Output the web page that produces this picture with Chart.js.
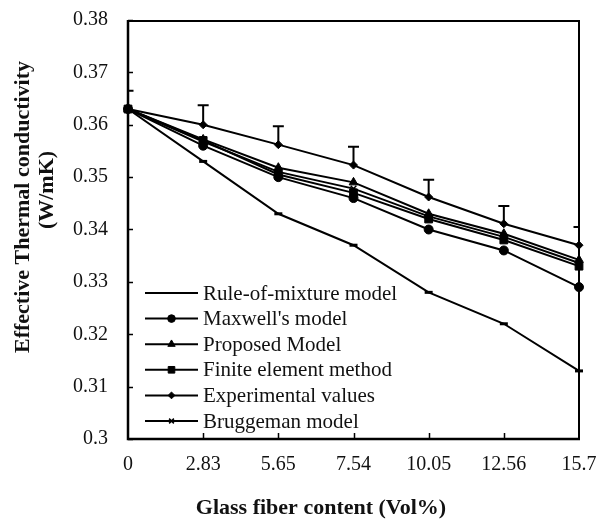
<!DOCTYPE html>
<html>
<head>
<meta charset="utf-8">
<script src="https://cdn.jsdelivr.net/npm/chart.js@4.4.1/dist/chart.umd.min.js"></script>
<style>
  html, body { margin: 0; padding: 0; background: #fff; }
  #wrap { width: 598px; height: 523px; }
</style>
</head>
<body>
<div id="wrap"><canvas id="chart"></canvas></div>
<script>
// Glass fiber content (Vol%) categories
const fiberContent = ['0', '2.83', '5.65', '7.54', '10.05', '12.56', '15.7'];

// Effective thermal conductivity (W/mK) per model
const ruleOfMixture = [0.363, 0.353, 0.343, 0.337, 0.328, 0.322, 0.313];
const maxwellModel = [0.363, 0.356, 0.350, 0.346, 0.340, 0.336, 0.329];
const proposedModel = [0.363, 0.3572, 0.3518, 0.349, 0.343, 0.3392, 0.3342];
const finiteElement = [0.363, 0.357, 0.3505, 0.347, 0.342, 0.338, 0.333];
const experimental = [0.363, 0.360, 0.3562, 0.3523, 0.3462, 0.3411, 0.337];
const bruggemanModel = [0.363, 0.3568, 0.351, 0.3478, 0.3425, 0.3386, 0.3336];

// Positive error of the experimental values
const expError = [0.0035, 0.0037, 0.0035, 0.0035, 0.0033, 0.0034, 0.0035];

const yTicks = { min: 0.30, max: 0.38, step: 0.01 };

const serif = '"Liberation Serif", "Times New Roman", serif';
const ink = '#111';

function series(label, data, style, radius, borderWidth) {
    return {
        label: label,
        data: data,
        borderColor: '#000',
        backgroundColor: '#000',
        borderWidth: 2,
        pointStyle: style,
        pointRadius: radius,
        pointBorderWidth: borderWidth,
        pointBackgroundColor: '#000',
        pointBorderColor: '#000',
        tension: 0,
        fill: false,
        clip: false
    };
}

const datasets = [
    series('Rule-of-mixture model', ruleOfMixture, 'line', 4, 3),
    series("Maxwell's model", maxwellModel, 'circle', 4.5, 1),
    series('Proposed Model', proposedModel, 'triangle', 5, 1),
    series('Finite element method', finiteElement, 'rect', 5.5, 1),
    series('Bruggeman model', bruggemanModel, 'crossRot', 4, 1.5),
    series('Experimental values', experimental, 'rectRot', 4, 1)
];

// order shown in the legend box
const legendOrder = ['Rule-of-mixture model', "Maxwell's model", 'Proposed Model',
    'Finite element method', 'Experimental values', 'Bruggeman model'];

const framePlugin = {
    id: 'frame',
    afterDatasetsDraw(chart) {
        const ctx = chart.ctx;
        const a = chart.chartArea;
        const x = chart.scales.x;
        const y = chart.scales.y;

        // error bars on the experimental values (upper side only)
        ctx.save();
        ctx.beginPath();
        ctx.rect(a.left, a.top - 2, a.right - a.left, a.bottom - a.top + 2);
        ctx.clip();
        ctx.strokeStyle = '#000';
        ctx.lineWidth = 2;
        experimental.forEach((v, i) => {
            const px = x.getPixelForValue(i);
            const py0 = y.getPixelForValue(v);
            const py1 = y.getPixelForValue(v + expError[i]);
            ctx.beginPath();
            ctx.moveTo(px, py0);
            ctx.lineTo(px, py1);
            ctx.moveTo(px - 5.5, py1);
            ctx.lineTo(px + 5.5, py1);
            ctx.stroke();
        });
        ctx.restore();
    },
    afterDraw(chart) {
        const ctx = chart.ctx;
        const x = chart.scales.x;
        const y = chart.scales.y;
        const left = Math.round(x.getPixelForValue(0));
        const right = Math.round(x.getPixelForValue(fiberContent.length - 1));
        const top = Math.round(y.getPixelForValue(yTicks.max));
        const bottom = Math.round(y.getPixelForValue(yTicks.min));

        ctx.save();
        ctx.strokeStyle = '#000';
        // top border
        ctx.lineWidth = 2;
        ctx.beginPath();
        ctx.moveTo(left, top + 1);
        ctx.lineTo(right + 1, top + 1);
        ctx.stroke();
        // right border
        ctx.beginPath();
        ctx.moveTo(right, top);
        ctx.lineTo(right, bottom);
        ctx.stroke();
        // left and bottom axes
        ctx.lineWidth = 2.5;
        ctx.beginPath();
        ctx.moveTo(left, top);
        ctx.lineTo(left, bottom);
        ctx.lineTo(right + 1, bottom);
        ctx.stroke();
        // inward tick marks
        ctx.lineWidth = 1.5;
        ctx.beginPath();
        y.ticks.forEach(t => {
            const py = Math.round(y.getPixelForValue(t.value)) + 0.5;
            ctx.moveTo(left, py);
            ctx.lineTo(left + 5, py);
        });
        for (let i = 1; i < fiberContent.length - 1; i++) {
            const px = Math.round(x.getPixelForValue(i)) + 0.5;
            ctx.moveTo(px, bottom);
            ctx.lineTo(px, bottom - 6);
        }
        ctx.stroke();

        // legend inside the plot
        ctx.font = '21px ' + serif;
        ctx.textAlign = 'left';
        ctx.textBaseline = 'middle';
        legendOrder.forEach((name, i) => {
            const ds = chart.data.datasets.find(d => d.label === name);
            const ly = 293 + i * 25.6;
            ctx.strokeStyle = '#000';
            ctx.lineWidth = 2;
            ctx.beginPath();
            ctx.moveTo(145, ly);
            ctx.lineTo(198, ly);
            ctx.stroke();
            if (ds.pointStyle !== 'line') {
                ctx.fillStyle = '#000';
                ctx.lineWidth = ds.pointBorderWidth;
                Chart.helpers.drawPoint(ctx, {
                    pointStyle: ds.pointStyle,
                    radius: ds.pointRadius * 0.85,
                    rotation: 0,
                    borderWidth: ds.pointBorderWidth
                }, 171.5, ly);
            }
            ctx.fillStyle = ink;
            ctx.fillText(name, 203, ly + 1);
        });

        // axis titles
        ctx.fillStyle = ink;
        ctx.font = 'bold 22px ' + serif;
        ctx.textAlign = 'center';
        ctx.fillText('Glass fiber content (Vol%)', 321, 508);
        ctx.save();
        ctx.translate(23, 207);
        ctx.rotate(-Math.PI / 2);
        ctx.fillText('Effective Thermal conductivity', 0, 0);
        ctx.restore();
        ctx.save();
        ctx.translate(47, 190);
        ctx.rotate(-Math.PI / 2);
        ctx.fillText('(W/mK)', 0, 0);
        ctx.restore();
        ctx.restore();
    }
};

new Chart(document.getElementById('chart'), {
    type: 'line',
    data: { labels: fiberContent, datasets: datasets },
    options: {
        responsive: true,
        maintainAspectRatio: false,
        animation: false,
        devicePixelRatio: 1,
        layout: { padding: { top: 20, right: 19, left: 0, bottom: 0 } },
        plugins: { legend: { display: false }, tooltip: { enabled: false } },
        scales: {
            x: {
                offset: false,
                border: { display: false },
                grid: { display: false, drawTicks: false },
                ticks: { color: ink, padding: 14, maxRotation: 0, autoSkip: false,
                         font: { family: serif, size: 20 } },
                afterFit(scale) {
                    scale.height = 84;
                    scale.paddingLeft = 0;
                    scale.paddingRight = 0;
                }
            },
            y: {
                min: yTicks.min,
                max: yTicks.max,
                border: { display: false },
                grid: { display: false, drawTicks: false },
                ticks: { stepSize: yTicks.step, color: ink, padding: 20,
                         font: { family: serif, size: 20 },
                         callback: v => String(+v.toFixed(2)) },
                afterFit(scale) {
                    scale.width = 128;
                    scale.paddingTop = 0;
                    scale.paddingBottom = 0;
                }
            }
        }
    },
    plugins: [framePlugin]
});
</script>
</body>
</html>
